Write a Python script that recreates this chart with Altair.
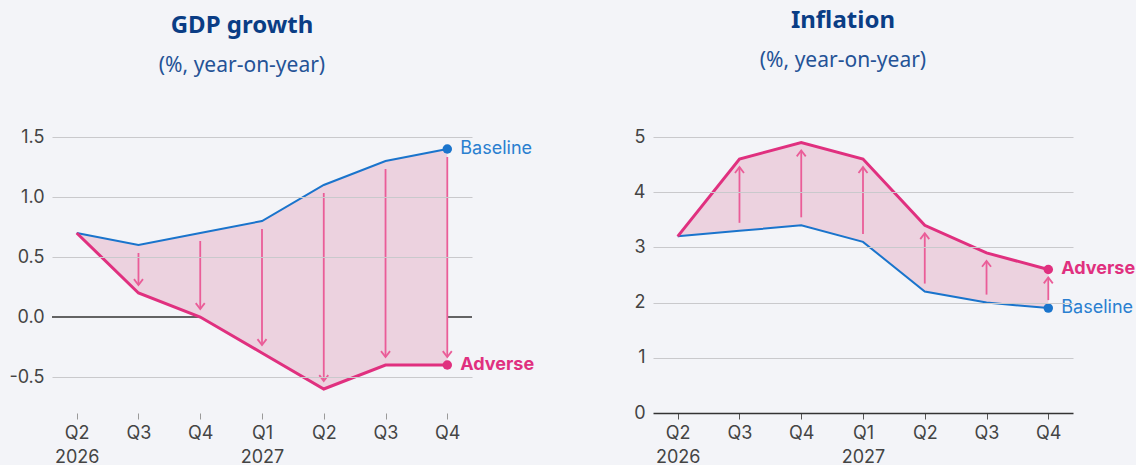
import json
import altair as alt
import pandas as pd

# ---------------- data ----------------
periods = ["2026-Q2", "2026-Q3", "2026-Q4", "2027-Q1", "2027-Q2", "2027-Q3", "2027-Q4"]
year_label_periods = ["2026-Q2", "2027-Q1"]

gdp_baseline = [0.7, 0.6, 0.7, 0.8, 1.1, 1.3, 1.4]
gdp_adverse = [0.7, 0.2, 0.0, -0.3, -0.6, -0.4, -0.4]

inf_baseline = [3.2, 3.3, 3.4, 3.1, 2.2, 2.0, 1.9]
inf_adverse = [3.2, 4.6, 4.9, 4.6, 3.4, 2.9, 2.6]

gdp_ticks = [-0.5, 0.0, 0.5, 1.0, 1.5]
gdp_domain = [-0.8, 1.5]
inf_ticks = [0, 1, 2, 3, 4, 5]
inf_domain = [0, 5]

series_names = ["Baseline", "Adverse"]
gdp_title = "GDP growth"
inf_title = "Inflation"
subtitle = "(%, year-on-year)"

# ---------------- style ----------------
BG = "#f3f4f8"
BLUE = "#1a74cc"
BLUE_TXT = "#2a7fd0"
MAG = "#e0307f"
ARROW = "#ea5d98"
AREA = "#ecd2df"
GRID = "#c9c9cc"
LABEL = "#444444"
TITLE = "#0a3d85"
SUBTITLE = "#245296"
FONT = "Inter"
TFONT = "Noto Sans"

label_expr = (
    "indexof(" + json.dumps(year_label_periods) + ", datum.value) >= 0 ? "
    "[split(datum.value, '-')[1], split(datum.value, '-')[0]] : split(datum.value, '-')[1]"
)


def panel(baseline, adverse, domain, ticks, ylabel_expr, title, title_offset,
          zero_rule, direction, x_domain):
    df = pd.DataFrame({"period": periods, "baseline": baseline,
                       "adverse": adverse, "idx": list(range(len(periods)))})
    last = len(periods) - 1

    xaxis = alt.Axis(title=None, labelExpr=label_expr, labelAngle=0,
                     labelFont=FONT, labelFontSize=18, labelColor=LABEL,
                     labelLineHeight=24, labelPadding=5,
                     ticks=True, tickSize=6,
                     tickColor="#555555" if x_domain else "#9a9a9a",
                     domain=x_domain, domainColor="#333333", domainWidth=1.5,
                     grid=False)
    x = alt.X("period:O", sort=periods,
              scale=alt.Scale(type="point", padding=0.4), axis=xaxis)

    yaxis = alt.Axis(title=None, values=ticks, labelExpr=ylabel_expr,
                     labelFont=FONT, labelFontSize=18, labelColor=LABEL,
                     labelPadding=8, ticks=False, domain=False,
                     grid=True, gridWidth=1, zindex=1,
                     gridColor={"condition": {"test": "datum.value === 0",
                                              "value": "rgba(0,0,0,0)"},
                                "value": GRID})
    yscale = alt.Scale(domain=domain, nice=False, zero=False)

    def Y(field):
        return alt.Y(field, type="quantitative", scale=yscale, axis=yaxis)

    base = alt.Chart(df).encode(x=x)
    layers = []

    if zero_rule:
        zdf = pd.DataFrame({"v": [0.0]})
        layers.append(alt.Chart(zdf).mark_rule(color="#333333", strokeWidth=1.5)
                      .encode(y=Y("v")))

    layers.append(base.mark_area(color=AREA, opacity=1)
                  .encode(y=Y("baseline"), y2="adverse"))
    layers.append(base.mark_line(color=BLUE, strokeWidth=2)
                  .encode(y=Y("baseline")))
    layers.append(base.mark_line(color=MAG, strokeWidth=3)
                  .encode(y=Y("adverse")))

    gap = 8
    if direction == "down":
        r_off, r2_off, tip = gap, -gap, -gap
        shape = "M-1,-1.3L0,0L1,-1.3"
    else:
        r_off, r2_off, tip = -gap, gap, gap
        shape = "M-1,1.3L0,0L1,1.3"

    arrows = base.transform_filter("datum.idx > 0")
    layers.append(arrows.mark_rule(color=ARROW, strokeWidth=1.8,
                                   yOffset=r_off, y2Offset=r2_off)
                  .encode(y=Y("baseline"), y2="adverse"))
    layers.append(arrows.mark_point(shape=shape, filled=False, size=81,
                                    color=ARROW, strokeWidth=1.8, opacity=1,
                                    yOffset=tip)
                  .encode(y=Y("adverse")))

    ends = base.transform_filter(f"datum.idx == {last}")
    layers.append(ends.mark_circle(color=BLUE, size=90, opacity=1)
                  .encode(y=Y("baseline")))
    layers.append(ends.mark_circle(color=MAG, size=90, opacity=1)
                  .encode(y=Y("adverse")))
    layers.append(ends.mark_text(align="left", baseline="middle", dx=13,
                                 font=FONT, fontSize=18, color=BLUE_TXT)
                  .encode(y=Y("baseline"), text=alt.value(series_names[0])))
    layers.append(ends.mark_text(align="left", baseline="middle", dx=13,
                                 font=FONT, fontSize=18, fontWeight="bold",
                                 color=MAG)
                  .encode(y=Y("adverse"), text=alt.value(series_names[1])))

    return alt.layer(*layers).properties(
        width=420, height=276,
        title=alt.TitleParams(text=title, subtitle=subtitle, anchor="middle",
                              frame="group", dx=-20, offset=title_offset,
                              font=TFONT, fontSize=24, fontWeight="bold",
                              color=TITLE, subtitleFont=TFONT,
                              subtitleFontSize=21, subtitleColor=SUBTITLE,
                              subtitlePadding=17),
    )


gdp_label = ("datum.value < 0 ? '-' + format(-datum.value, '.1f') : "
             "format(datum.value, '.1f')")
inf_label = "format(datum.value, 'd')"

left = panel(gdp_baseline, gdp_adverse, gdp_domain, gdp_ticks, gdp_label,
             gdp_title, 52, True, "down", False)
right = panel(inf_baseline, inf_adverse, inf_domain, inf_ticks, inf_label,
              inf_title, 57, False, "up", True)

chart = alt.hconcat(left, right, spacing=98).properties(
    background=BG,
    padding={"left": 8, "top": 9, "right": 0, "bottom": 0},
).configure_view(stroke=None)

chart.save("out.html", embed_options={"renderer": "svg", "actions": False})
